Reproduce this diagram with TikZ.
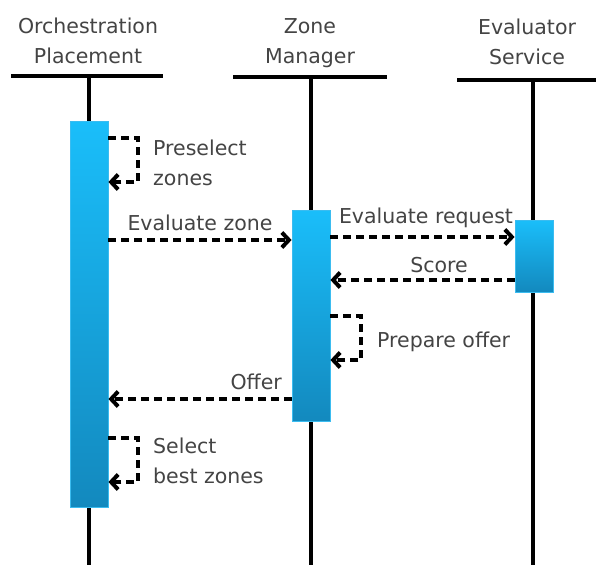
\documentclass[tikz,border=0pt]{standalone}
\usepackage{fontspec}
\setmainfont{DejaVu Sans}
\usetikzlibrary{arrows.meta}
\definecolor{txt}{HTML}{444444}
\definecolor{bartop}{HTML}{1ABEFA}
\definecolor{barbot}{HTML}{1389BE}
\definecolor{baredge}{HTML}{3BBCF0}
\begin{document}
\begin{tikzpicture}[x=1pt,y=-1pt,
  lbl/.style={text=txt, font=\fontsize{20.5}{29.5}\selectfont, inner sep=0pt},
  head/.style={lbl, align=center, anchor=base},
  note/.style={lbl, align=left, anchor=base west},
  life/.style={line width=4pt},
  actbar/.style={draw=baredge, line width=0.8pt, top color=bartop, bottom color=barbot,
                 minimum width=38pt, inner sep=0pt},
  msg/.style={line width=4pt, dash pattern=on 8pt off 5pt,
              -{Straight Barb[length=7pt,width=15pt,line width=4pt]}},
]
\useasboundingbox (0,0) rectangle (596,565);

% participant headings (anchored on the baseline of their last line)
\node[head] (hL) at (88,63) {Orchestration\\Placement};
\node[head] (hM) at (310,63) {Zone\\Manager};
\node[head] (hR) at (527,64) {Evaluator\\Service};

% heading rules and lifelines
\coordinate (topL) at (89,76);  \coordinate (endL) at (89,565);
\coordinate (topM) at (311,77); \coordinate (endM) at (311,565);
\coordinate (topR) at (533,80); \coordinate (endR) at (533,565);
\draw[life] (11,76) -- (163,76);
\draw[life] (233,77) -- (387,77);
\draw[life] (457,80) -- (600,80);
\draw[life] (topL) -- (endL);
\draw[life] (topM) -- (endM);
\draw[life] (topR) -- (endR);

% activation bars
\node[actbar, minimum height=386pt] (barL) at (89,314) {};
\node[actbar, minimum height=211pt] (barM) at (311,315.5) {};
\node[actbar, minimum height=72pt]  (barR) at (534,256) {};

% message rows
\coordinate (rPre1) at (0,138);  \coordinate (rPre2) at (0,182);
\coordinate (rEvZ)  at (0,240);
\coordinate (rEvR)  at (0,237);
\coordinate (rScore) at (0,280);
\coordinate (rPrep1) at (0,316); \coordinate (rPrep2) at (0,360);
\coordinate (rOffer) at (0,399);
\coordinate (rSel1) at (0,438);  \coordinate (rSel2) at (0,482);

% messages
\draw[msg] (barL.east |- rPre1) -- ++(30,0) -- ++(0,44) -- (barL.east |- rPre2);
\draw[msg] (barL.east |- rEvZ) -- (barM.west |- rEvZ);
\draw[msg] (barM.east |- rEvR) -- (barR.west |- rEvR);
\draw[msg] (barR.west |- rScore) -- (barM.east |- rScore);
\draw[msg] (barM.east |- rPrep1) -- ++(31,0) -- ++(0,44) -- (barM.east |- rPrep2);
\draw[msg] (barM.west |- rOffer) -- (barL.east |- rOffer);
\draw[msg] (barL.east |- rSel1) -- ++(30,0) -- ++(0,44) -- (barL.east |- rSel2);

% message labels
\node[note] (tPre) at (153,185) {Preselect\\zones};
\node[lbl, anchor=base] (tEvZ) at (200,230) {Evaluate zone};
\node[lbl, anchor=base] (tEvR) at (426,223) {Evaluate request};
\node[lbl, anchor=base] (tScore) at (439,272) {Score};
\node[note] (tPrep) at (377,347) {Prepare offer};
\node[lbl, anchor=base east] (tOffer) at (282,389) {Offer};
\node[note] (tSel) at (153,483) {Select\\best zones};
\end{tikzpicture}
\end{document}
